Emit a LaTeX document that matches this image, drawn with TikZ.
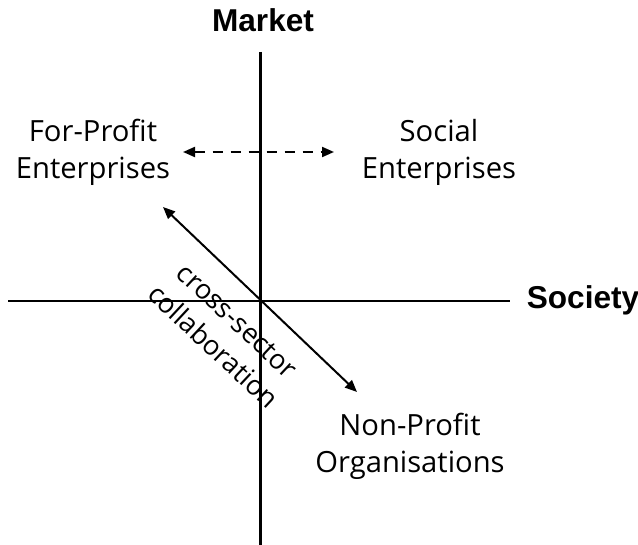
\documentclass[tikz,border=0pt]{standalone}
\usepackage{fontspec}
\setmainfont{Open Sans}
\newfontfamily\labelfont{Liberation Sans}
\usetikzlibrary{arrows.meta}

\begin{document}
\begin{tikzpicture}[x=0.5pt, y=-0.5pt,
		sector/.style={align=center, font=\fontsize{14.6}{18.5}\selectfont},
		axislabel/.style={font=\labelfont\bfseries\fontsize{15.8}{18}\selectfont},
		both/.style={{Triangle[length=6pt,width=5pt]}-{Triangle[length=6pt,width=5pt]}}]
	\useasboundingbox (0,0) rectangle (638,545);

	%Aksene
	\coordinate (top) at (260,52);
	\coordinate (bottom) at (260,545);
	\coordinate (left) at (8,301);
	\coordinate (right) at (510,301);
	\draw[line width=1.5pt] (top) -- (bottom);
	\draw[line width=1.1pt] (left) -- (right);
	\node[axislabel] (market) at (263,20) {Market};
	\node[axislabel] (society) at (583,300) {Society};

	%Sektorene
	\node[sector] (forprofit) at (93,152) {For-Profit\\Enterprises};
	\node[sector] (social) at (439,152) {Social\\Enterprises};
	\node[sector] (nonprofit) at (410,446) {Non-Profit\\Organisations};

	%Pilene
	\coordinate (dl) at (183,152);
	\coordinate (dr) at (334,152);
	\draw[both, line width=1pt, dash pattern=on 5pt off 4pt] (dl) -- (dr);
	\coordinate (ul) at (163,207);
	\coordinate (lr) at (357,392);
	\draw[both, line width=1pt] (ul) -- (lr);
	\node[sector, rotate=-43, font=\fontsize{13.6}{17.5}\selectfont] (cross) at (225,334) {cross-sector\\collaboration};
\end{tikzpicture}
\end{document}
